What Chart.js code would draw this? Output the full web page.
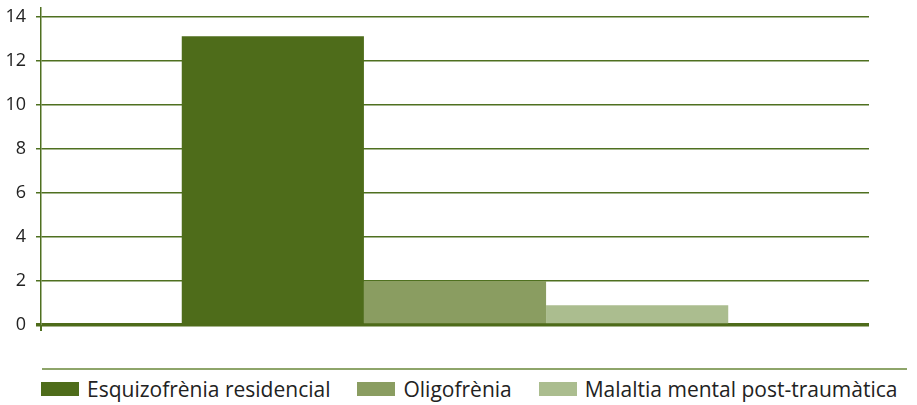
<!DOCTYPE html>
<html lang="ca">
<head>
  <meta charset="UTF-8">
  <title>Diagnòstics</title>
  <script src="https://cdn.jsdelivr.net/npm/chart.js"></script>
  <style>
    body {
      margin: 0;
      background: #fff;
      font-family: 'Open Sans', sans-serif;
      overflow: hidden;
    }
    .wrap {
      position: relative;
      width: 917px;
      height: 405px;
      overflow: hidden;
    }
    .plot {
      position: absolute;
      left: 0;
      top: -5px;
      width: 917px;
      height: 365px;
    }
    .sep {
      position: absolute;
      left: 42px;
      top: 368px;
      width: 865px;
      height: 2px;
      background: #8ea56a;
    }
    .legend {
      position: absolute;
      left: 41px;
      top: 375px;
      display: flex;
      align-items: center;
      font-size: 21px;
      color: #222;
      white-space: nowrap;
    }
    .legend span.item {
      display: flex;
      align-items: center;
      margin-right: 27px;
    }
    .legend i {
      display: inline-block;
      width: 38px;
      height: 14px;
      margin-right: 8px;
    }
  </style>
</head>
<body>
  <div class="wrap">
    <div class="plot"><canvas id="graf"></canvas></div>
    <div class="sep"></div>
    <div class="legend" id="llegenda"></div>
  </div>

  <script>
    const categories = [''];
    const seriesNames = ['Esquizofrènia residencial', 'Oligofrènia', 'Malaltia mental post-traumàtica'];
    const seriesValues = [[13.1], [2], [0.9]];
    const seriesColors = ['#4e6c1a', '#8a9d61', '#abbd8f'];
    const yTicks = [0, 2, 4, 6, 8, 10, 12, 14];

    const green = '#4f7020';

    const datasets = seriesNames.map((nom, i) => ({
      label: nom,
      data: seriesValues[i],
      backgroundColor: seriesColors[i],
      borderWidth: 0,
      barPercentage: 1,
      categoryPercentage: 0.66
    }));

    // llegenda en HTML
    const leg = document.getElementById('llegenda');
    seriesNames.forEach((nom, i) => {
      const s = document.createElement('span');
      s.className = 'item';
      s.innerHTML = '<i style="background:' + seriesColors[i] + '"></i>' + nom;
      leg.appendChild(s);
    });

    const ctx = document.getElementById('graf').getContext('2d');
    new Chart(ctx, {
      type: 'bar',
      data: { labels: categories, datasets: datasets },
      options: {
        responsive: true,
        maintainAspectRatio: false,
        animation: false,
        layout: { padding: { top: 3, right: 48, bottom: 29, left: 0 } },
        plugins: {
          legend: { display: false },
          tooltip: { enabled: false }
        },
        scales: {
          x: {
            ticks: { display: false },
            border: { display: false },
            grid: {
              drawOnChartArea: false,
              drawTicks: true,
              tickLength: 6,
              lineWidth: 2,
              color: c => c.index === 0 ? green : 'rgba(0,0,0,0)'
            }
          },
          y: {
            min: 0,
            max: 14.4,
            afterBuildTicks: s => { s.ticks = yTicks.map(v => ({ value: v })); },
            afterFit: s => { s.width = 41; },
            border: { color: green, width: 1.5 },
            grid: {
              color: c => c.tick && c.tick.value === 0 ? '#4e6b1a' : green,
              lineWidth: c => c.tick && c.tick.value === 0 ? 3.5 : 1.5,
              tickLength: 5
            },
            ticks: {
              padding: 10,
              color: '#222',
              font: { family: 'Open Sans', size: 18, lineHeight: 0.3 }
            }
          }
        }
      }
    });
  </script>
</body>
</html>
